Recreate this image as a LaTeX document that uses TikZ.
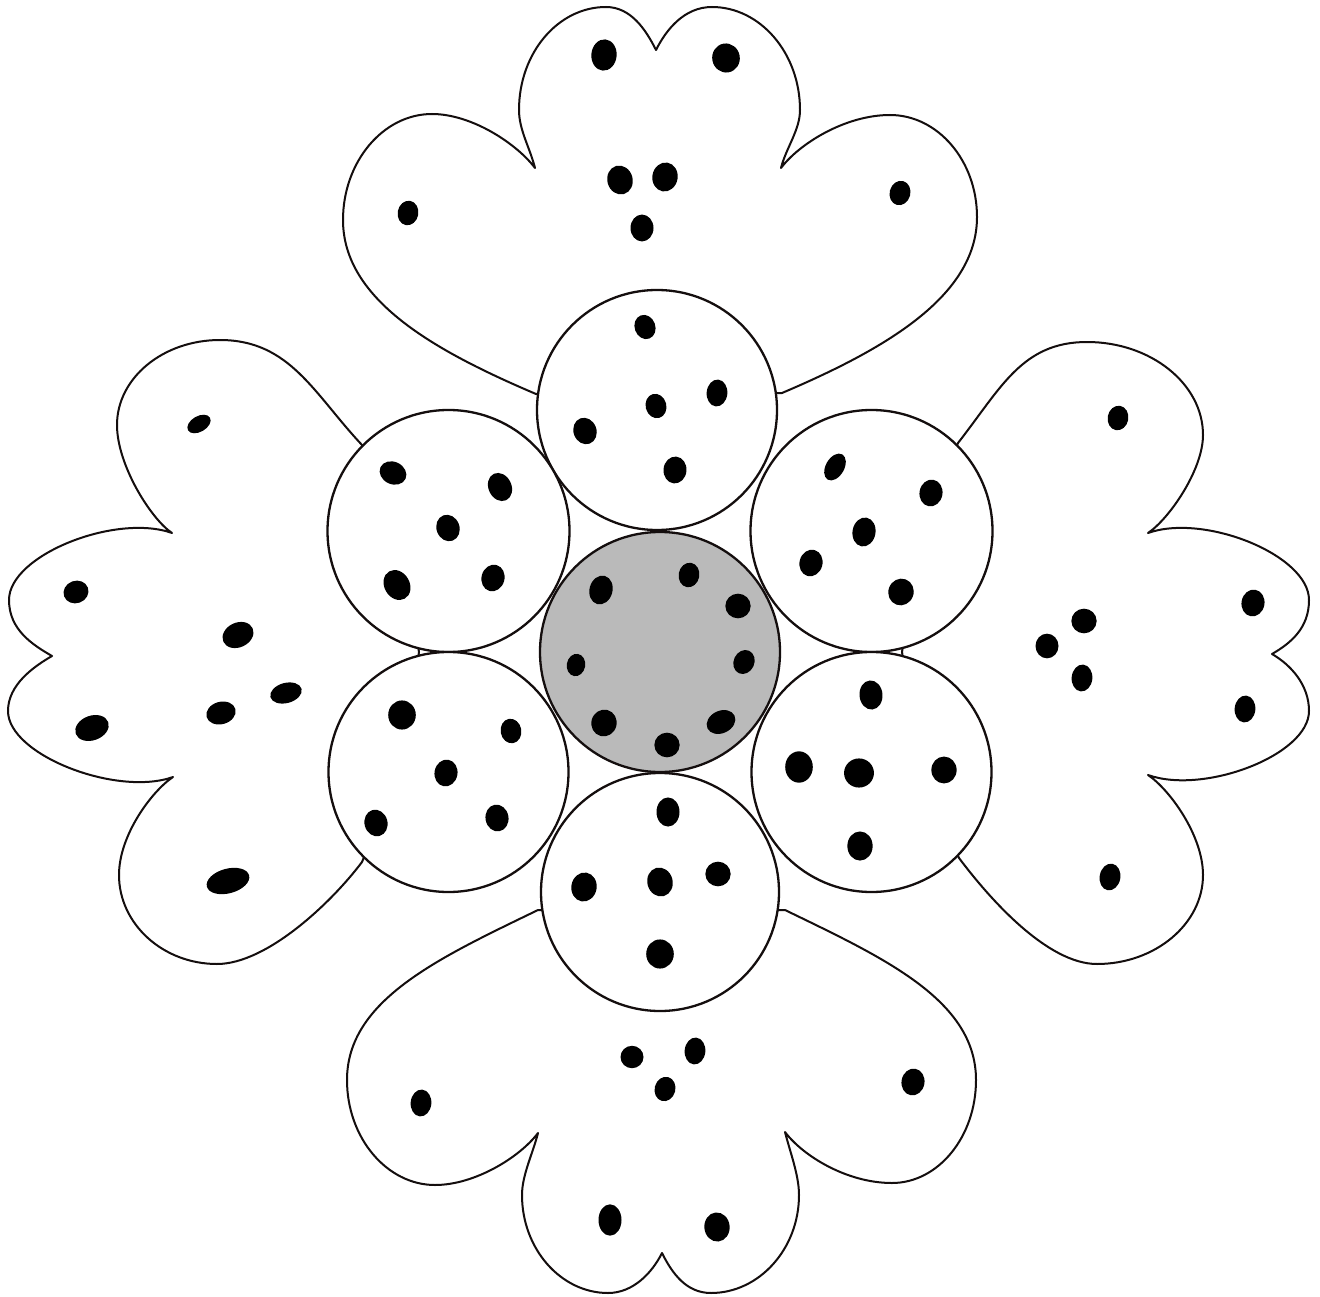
\documentclass[tikz,border=0pt]{standalone}
\definecolor{centregray}{RGB}{186,186,186}
\definecolor{inkline}{RGB}{20,14,14}
\tikzset{
  petal/.style={draw=inkline, line width=2pt, line join=round},
  bud/.style={draw=inkline, line width=2.3pt, fill=white},
  core/.style={draw=inkline, line width=2.3pt, fill=centregray}
}
\newcommand{\blob}[5]{\fill[black, rotate around={#5:(#1,#2)}] (#1,#2) ellipse [x radius={1.15*#3}, y radius={1.12*#4}];}
\begin{document}
\begin{tikzpicture}[x=1pt,y=-1pt]
\useasboundingbox[fill=white] (0,0) rectangle (1320,1297);

% ---------- top petal ----------
\draw[petal] (536,394)
  .. controls (435,351) and (343,300) .. (343,220)
  .. controls (343,162) and (383,114) .. (432,114)
  .. controls (472,114) and (517,144) .. (535,168)
  .. controls (530,148) and (519,130) .. (519,110)
  .. controls (519,53) and (558,7) .. (606,7)
  .. controls (631,7) and (646,30) .. (656,50)
  .. controls (666,30) and (684,7) .. (712,7)
  .. controls (760,7) and (800,53) .. (800,110)
  .. controls (800,130) and (786,148) .. (781,168)
  .. controls (799,144) and (845,115) .. (890,115)
  .. controls (938,115) and (977,161) .. (977,217)
  .. controls (977,297) and (883,350) .. (782,393)
  -- cycle;

% ---------- bottom petal ----------
\draw[petal] (538,910)
  .. controls (439,958) and (347,1000) .. (347,1080)
  .. controls (347,1138) and (387,1185) .. (435,1185)
  .. controls (475,1185) and (520,1157) .. (538,1133)
  .. controls (533,1153) and (522,1175) .. (522,1195)
  .. controls (522,1249) and (561,1293) .. (608,1293)
  .. controls (633,1293) and (652,1273) .. (662,1253)
  .. controls (672,1273) and (686,1293) .. (711,1293)
  .. controls (759,1293) and (799,1249) .. (799,1195)
  .. controls (799,1175) and (790,1152) .. (785,1132)
  .. controls (803,1156) and (847,1183) .. (892,1183)
  .. controls (938,1183) and (976,1137) .. (976,1080)
  .. controls (976,1000) and (884,958) .. (785,910)
  -- cycle;

% ---------- left petal ----------
\draw[petal] (362,445)
  .. controls (314,394) and (290,340) .. (220,340)
  .. controls (163,340) and (117,378) .. (117,425)
  .. controls (117,465) and (151,519) .. (172,533)
  .. controls (116,513) and (9,555) .. (9,600)
  .. controls (9,630) and (33,645) .. (52,656)
  .. controls (33,667) and (8,685) .. (8,711)
  .. controls (8,755) and (117,797) .. (173,777)
  .. controls (152,791) and (119,835) .. (119,875)
  .. controls (119,924) and (163,964) .. (217,964)
  .. controls (267,964) and (332,902) .. (362,862)
  -- (400,770) -- (419,652) -- (400,540) -- cycle;

% ---------- right petal ----------
\draw[petal] (958,443)
  .. controls (1001,388) and (1022,342) .. (1087,342)
  .. controls (1151,342) and (1203,384) .. (1203,435)
  .. controls (1203,470) and (1169,519) .. (1148,533)
  .. controls (1204,513) and (1309,555) .. (1309,600)
  .. controls (1309,628) and (1291,643) .. (1272,654)
  .. controls (1291,665) and (1309,685) .. (1309,711)
  .. controls (1309,755) and (1204,795) .. (1148,775)
  .. controls (1169,789) and (1203,835) .. (1203,875)
  .. controls (1203,924) and (1155,964) .. (1097,964)
  .. controls (1047,964) and (989,898) .. (959,858)
  -- (920,770) -- (902,652) -- (920,540) -- cycle;

% ---------- circles ----------
\draw[bud] (657,410) circle [radius=120];
\draw[bud] (660,892) circle [radius=119];
\draw[bud] (448.5,531) circle [radius=121];
\draw[bud] (448.5,772) circle [radius=120];
\draw[bud] (871.5,531) circle [radius=121];
\draw[bud] (871.5,772) circle [radius=120];
\draw[core] (660,652) circle [radius=120];

% ---------- dots: top petal ----------
\blob{604}{55}{11}{14}{-5}
\blob{726}{58}{12}{13}{10}
\blob{620}{180}{11}{13}{15}
\blob{665}{177}{11}{13}{-10}
\blob{642}{228}{10}{12}{0}
\blob{408}{213}{9}{11}{-10}
\blob{900}{193}{9}{11}{-15}
% top circle
\blob{645}{327}{9}{11}{20}
\blob{717}{393}{9}{12}{-5}
\blob{656}{406}{9}{11}{15}
\blob{585}{431}{10}{12}{20}
\blob{675}{470}{10}{12}{-5}
% upper-left circle
\blob{393}{473}{12}{10}{-25}
\blob{500}{487}{10}{13}{25}
\blob{448}{528}{10}{12}{20}
\blob{397}{585}{11}{14}{30}
\blob{493}{578}{10}{12}{-15}
% upper-right circle
\blob{835}{467}{8}{13}{-30}
\blob{931}{493}{10}{12}{-10}
\blob{864}{532}{10}{13}{-10}
\blob{811}{563}{10}{12}{-15}
\blob{901}{592}{11}{12}{-20}
% centre
\blob{601}{590}{10}{13}{-15}
\blob{689}{575}{9}{11}{-10}
\blob{738}{606}{11}{11}{0}
\blob{576}{665}{8}{10}{-10}
\blob{744}{662}{9}{11}{-25}
\blob{604}{723}{11}{12}{-15}
\blob{721}{722}{13}{10}{25}
\blob{667}{745}{11}{11}{0}
% lower-left circle
\blob{402}{715}{12}{13}{0}
\blob{511}{731}{9}{11}{10}
\blob{446}{773}{10}{12}{-10}
\blob{376}{823}{10}{12}{15}
\blob{497}{818}{10}{12}{10}
% lower-right circle
\blob{871}{695}{10}{13}{5}
\blob{799}{767}{12}{14}{0}
\blob{859}{773}{13}{13}{0}
\blob{944}{770}{11}{12}{0}
\blob{860}{846}{11}{13}{0}
% bottom circle
\blob{668}{812}{10}{13}{0}
\blob{584}{887}{11}{13}{-10}
\blob{660}{882}{11}{13}{15}
\blob{718}{874}{11}{11}{0}
\blob{660}{954}{12}{13}{0}
% left petal
\blob{199}{424}{11}{7}{30}
\blob{76}{592}{11}{10}{20}
\blob{238}{635}{14}{11}{25}
\blob{286}{693}{14}{9}{15}
\blob{221}{713}{13}{10}{15}
\blob{92}{728}{15}{11}{20}
\blob{228}{881}{19}{11}{15}
% right petal
\blob{1118}{418}{9}{11}{-10}
\blob{1253}{603}{10}{12}{-10}
\blob{1245}{709}{9}{12}{-5}
\blob{1084}{621}{11}{11}{0}
\blob{1047}{646}{10}{11}{0}
\blob{1082}{678}{9}{12}{-5}
\blob{1110}{877}{9}{12}{-10}
% bottom petal
\blob{632}{1057}{10}{10}{0}
\blob{695}{1051}{9}{12}{-5}
\blob{665}{1089}{9}{11}{-15}
\blob{421}{1103}{9}{12}{-5}
\blob{913}{1082}{10}{12}{-10}
\blob{610}{1220}{10}{14}{0}
\blob{717}{1227}{11}{13}{5}
\end{tikzpicture}
\end{document}
